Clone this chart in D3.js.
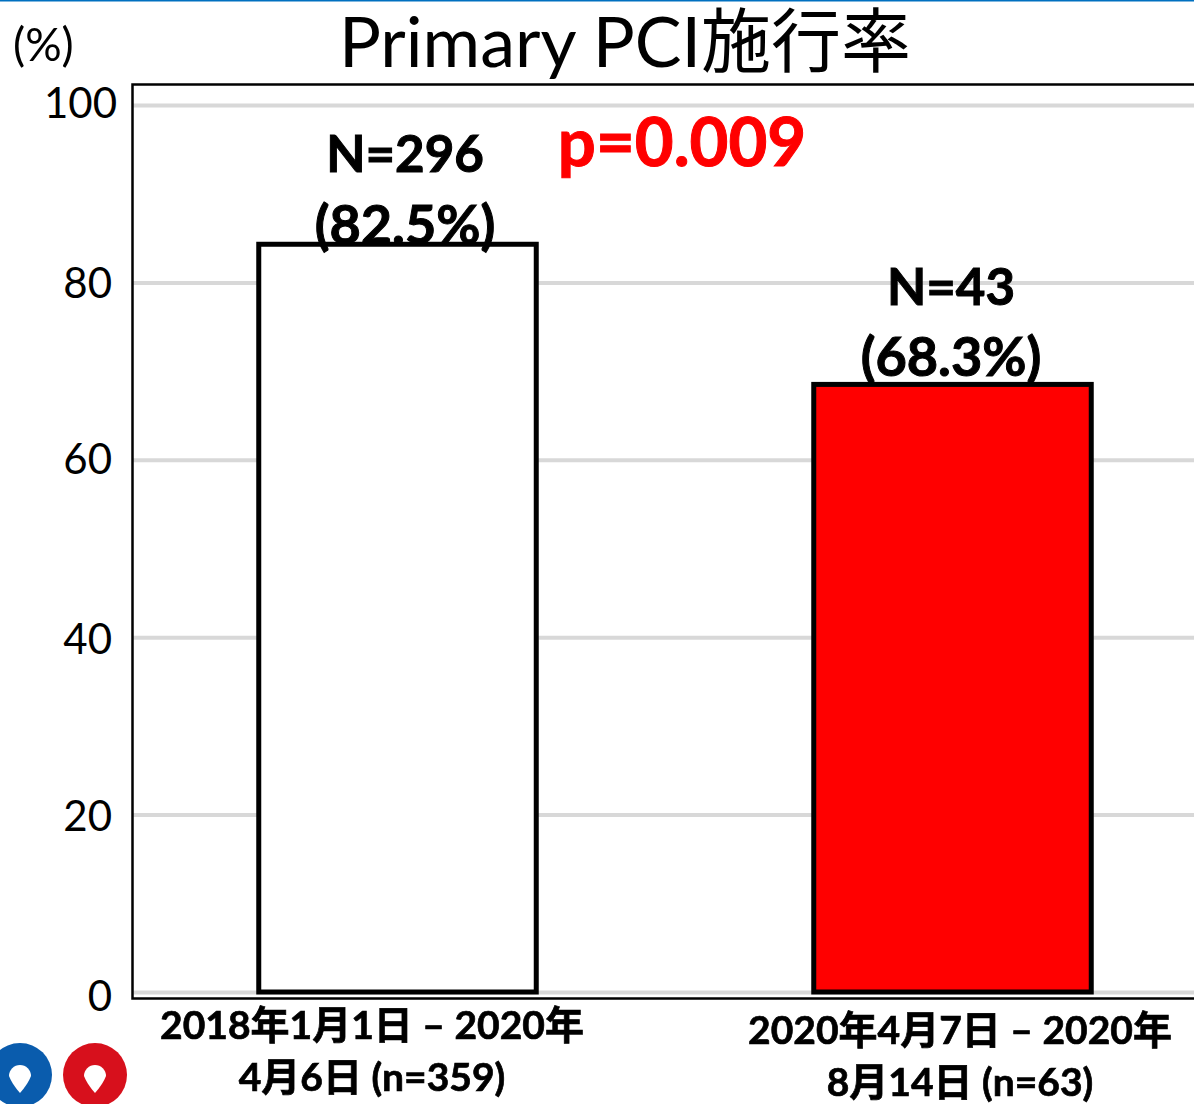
<!DOCTYPE html>
<html>
<head>
<meta charset="utf-8">
<script src="https://cdn.jsdelivr.net/npm/d3@7"></script>
<style>
  html, body { margin: 0; padding: 0; background: #fff; overflow: hidden; }
  text { font-family: Lato, "Noto Sans CJK JP", sans-serif; }
</style>
</head>
<body>
<div id="chart"></div>
<script>
var categories = ["2018-2020", "2020"];
var values = [84.3, 68.5];
var countLabels = ["N=296", "N=43"];
var pctLabels = ["(82.5%)", "(68.3%)"];
var catLines = [["2018年1月1日 – 2020年", "4月6日 (n=359)"], ["2020年4月7日 – 2020年", "8月14日 (n=63)"]];
var yTicks = [0, 20, 40, 60, 80, 100];
var barColors = ["#ffffff", "#ff0000"];
var pinColors = ["#0a5cad", "#d7101c"];

var width = 1194, height = 1104;
var svg = d3.select("#chart").append("svg")
  .attr("width", width).attr("height", height)
  .style("display", "block");

// the source is a pasted image, so the marks are a bit soft
var defs = svg.append("defs");
defs.append("filter").attr("id", "soft").append("feGaussianBlur").attr("stdDeviation", 0.7);

var y = d3.scaleLinear().domain([0, 100]).range([992, 105]);
var x = d3.scaleBand().domain(categories).range([120, 1230]).paddingInner(0.5).paddingOuter(0.25);

// blue strip along the top edge
svg.append("rect").attr("x", 0).attr("y", 0).attr("width", width).attr("height", 1.5).attr("fill", "#0070c0");

var grid = d3.axisLeft(y).tickValues(yTicks).tickSize(-(width - 133)).tickFormat("");
svg.append("g").attr("transform", "translate(133,0)").attr("filter", "url(#soft)").call(grid)
  .call(function(g) { g.select(".domain").remove(); })
  .selectAll("line").attr("stroke", "#d8d8d8").attr("stroke-width", 4);

// frame
svg.append("path").attr("d", "M1194,84.5H132.5V998.5H1194").attr("fill", "none").attr("stroke", "#000").attr("stroke-width", 2.5);

// y tick labels, hand placed in the original so nudge them
var tickDx = { 0: -5, 20: -5, 40: -5, 60: -5, 80: -5, 100: 0 };
var tickDy = { 0: 5, 20: 2, 40: 3, 60: 0, 80: 2, 100: -1 };
var yAxis = d3.axisLeft(y).tickValues(yTicks).tickSize(0).tickPadding(16);
svg.append("g").attr("transform", "translate(133,0)").call(yAxis)
  .call(function(g) { g.select(".domain").remove(); })
  .selectAll("text").attr("font-size", 42).attr("fill", "#000")
  .attr("transform", function(d) { return "translate(" + tickDx[d] + "," + tickDy[d] + ")"; });

svg.append("text").attr("x", 13).attr("y", 61).attr("font-size", 45.5).text("(%)");
svg.append("text").attr("x", 625).attr("y", 67).attr("text-anchor", "middle").attr("font-size", 70).text("Primary PCI施行率");

// bars
svg.selectAll("rect.bar").data(categories).enter().append("rect").attr("class", "bar")
  .attr("x", function(d) { return x(d); })
  .attr("width", x.bandwidth())
  .attr("y", function(d, i) { return y(values[i]); })
  .attr("height", function(d, i) { return y(0) - y(values[i]); })
  .attr("fill", function(d, i) { return barColors[i]; })
  .attr("stroke", "#000").attr("stroke-width", 5).attr("filter", "url(#soft)");

// value labels
var labelX = [405, 951], countY = [172, 305], pctY = [244, 376];
svg.selectAll("text.count").data(countLabels).enter().append("text").attr("class", "count")
  .attr("x", function(d, i) { return labelX[i]; }).attr("y", function(d, i) { return countY[i]; })
  .attr("text-anchor", "middle").attr("font-size", 51).attr("font-weight", 700)
  .attr("stroke", "#000").attr("stroke-width", 1).text(function(d) { return d; });
svg.selectAll("text.pct").data(pctLabels).enter().append("text").attr("class", "pct")
  .attr("x", function(d, i) { return labelX[i]; }).attr("y", function(d, i) { return pctY[i]; })
  .attr("text-anchor", "middle").attr("font-size", 54).attr("font-weight", 700)
  .attr("stroke", "#000").attr("stroke-width", 1).text(function(d) { return d; });

svg.append("text").attr("x", 682).attr("y", 166).attr("text-anchor", "middle")
  .attr("font-size", 67).attr("font-weight", 700).attr("fill", "#ff0000")
  .attr("stroke", "#ff0000").attr("stroke-width", 1).text("p=0.009");

// category labels, they sit a little off the bar centres
var catX = [372, 960], catY = [1039, 1044], lineGap = 52;
catLines.forEach(function(lines, i) {
  lines.forEach(function(t, j) {
    svg.append("text").attr("x", catX[i]).attr("y", catY[i] + j * lineGap)
      .attr("text-anchor", "middle").attr("font-size", 39).attr("font-weight", 700)
      .attr("stroke", "#000").attr("stroke-width", 0.7).text(t);
  });
});

// the two round pin badges cut off in the corner
var pinX = [20, 95];
pinColors.forEach(function(c, i) {
  var g = svg.append("g").attr("transform", "translate(" + pinX[i] + ",1075)");
  g.append("circle").attr("r", 32).attr("fill", c);
  g.append("path").attr("d", "M-11,1A11,11 0 1 1 11,1Q8,9 0,18Q-8,9 -11,1Z").attr("fill", "#fff");
});
</script>
</body>
</html>
